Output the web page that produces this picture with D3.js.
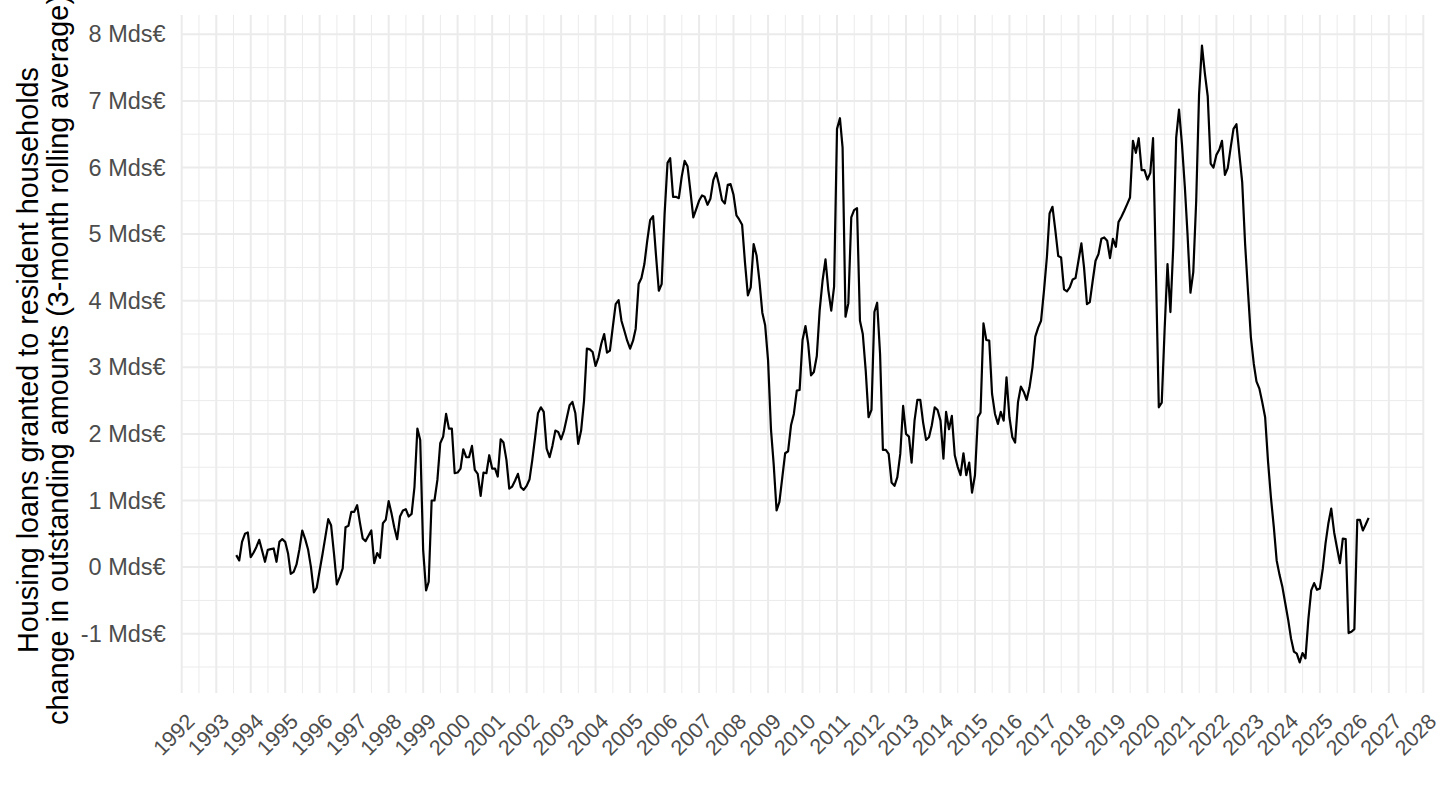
<!DOCTYPE html>
<html>
<head>
<meta charset="utf-8">
<script src="https://cdn.jsdelivr.net/npm/d3@7"></script>
<style>
	body { margin: 0; background: #fff; }
	svg { display: block; font-family: 'Liberation Sans', Arial, sans-serif; }
</style>
</head>
<body>
<svg></svg>
<script>
const w = 1440;
const h = 810;

// monthly series, first month below
const firstMonth = '1993-08';
const loans = [
	0.18, 0.10, 0.38, 0.50, 0.52, 0.15, 0.22, 0.30, 0.41, 0.25, 0.08, 0.26, 0.27, 0.28, 0.08, 0.38,
	0.42, 0.38, 0.20, -0.10, -0.07, 0.04, 0.27, 0.55, 0.42, 0.26, 0.00, -0.38, -0.31, -0.05, 0.20, 0.45,
	0.72, 0.63, 0.20, -0.26, -0.15, -0.02, 0.60, 0.62, 0.83, 0.83, 0.93, 0.68, 0.43, 0.39, 0.47, 0.55,
	0.06, 0.21, 0.14, 0.66, 0.71, 0.99, 0.80, 0.60, 0.42, 0.76, 0.85, 0.87, 0.76, 0.80, 1.20, 2.08,
	1.91, 0.26, -0.35, -0.22, 1.00, 1.00, 1.31, 1.86, 1.96, 2.30, 2.08, 2.08, 1.41, 1.42, 1.48, 1.77,
	1.65, 1.65, 1.82, 1.46, 1.40, 1.07, 1.42, 1.41, 1.68, 1.48, 1.48, 1.36, 1.92, 1.87, 1.61, 1.18,
	1.21, 1.30, 1.40, 1.20, 1.16, 1.22, 1.32, 1.60, 1.95, 2.31, 2.40, 2.33, 1.78, 1.65, 1.82, 2.05,
	2.03, 1.92, 2.05, 2.23, 2.43, 2.48, 2.31, 1.85, 2.05, 2.50, 3.28, 3.27, 3.23, 3.02, 3.15, 3.35,
	3.50, 3.22, 3.25, 3.60, 3.95, 4.01, 3.70, 3.55, 3.40, 3.28, 3.40, 3.58, 4.25, 4.34, 4.55, 4.90,
	5.21, 5.27, 4.70, 4.15, 4.25, 5.30, 6.07, 6.14, 5.56, 5.56, 5.54, 5.86, 6.10, 6.02, 5.65, 5.25,
	5.37, 5.50, 5.58, 5.56, 5.44, 5.53, 5.81, 5.92, 5.74, 5.51, 5.46, 5.74, 5.75, 5.59, 5.28, 5.22,
	5.14, 4.58, 4.08, 4.20, 4.85, 4.68, 4.30, 3.82, 3.63, 3.10, 2.06, 1.55, 0.85, 0.98, 1.35, 1.71,
	1.74, 2.13, 2.30, 2.65, 2.66, 3.41, 3.62, 3.36, 2.88, 2.93, 3.17, 3.85, 4.30, 4.62, 4.16, 3.85,
	4.21, 6.58, 6.74, 6.30, 3.76, 3.96, 5.25, 5.36, 5.39, 3.70, 3.50, 2.95, 2.25, 2.36, 3.83, 3.97,
	3.20, 1.76, 1.76, 1.70, 1.27, 1.22, 1.35, 1.70, 2.42, 2.00, 1.96, 1.57, 2.20, 2.51, 2.51, 2.17,
	1.91, 1.95, 2.13, 2.40, 2.36, 2.20, 1.63, 2.33, 2.07, 2.27, 1.68, 1.51, 1.38, 1.71, 1.38, 1.57,
	1.12, 1.38, 2.25, 2.32, 3.66, 3.41, 3.40, 2.60, 2.30, 2.15, 2.33, 2.20, 2.85, 2.25, 1.95, 1.87,
	2.48, 2.71, 2.63, 2.51, 2.70, 3.00, 3.46, 3.60, 3.70, 4.15, 4.66, 5.31, 5.41, 5.06, 4.67, 4.65,
	4.17, 4.14, 4.20, 4.32, 4.34, 4.60, 4.86, 4.50, 3.95, 3.98, 4.30, 4.60, 4.70, 4.93, 4.95, 4.90,
	4.64, 4.93, 4.81, 5.18, 5.26, 5.35, 5.45, 5.55, 6.40, 6.22, 6.44, 5.96, 5.96, 5.82, 5.92, 6.44,
	4.40, 2.40, 2.47, 3.55, 4.55, 3.83, 4.81, 6.45, 6.87, 6.35, 5.70, 5.00, 4.12, 4.43, 5.50, 7.09,
	7.83, 7.41, 7.07, 6.06, 6.00, 6.19, 6.27, 6.40, 5.89, 5.99, 6.30, 6.58, 6.65, 6.20, 5.78, 4.85,
	4.15, 3.45, 3.05, 2.79, 2.68, 2.48, 2.25, 1.60, 1.05, 0.60, 0.10, -0.12, -0.30, -0.55, -0.80, -1.07,
	-1.27, -1.30, -1.43, -1.29, -1.37, -0.78, -0.35, -0.24, -0.34, -0.32, -0.02, 0.35, 0.66, 0.88, 0.52, 0.29,
	0.06, 0.43, 0.42, -0.99, -0.97, -0.93, 0.71, 0.71, 0.55, 0.64, 0.74
];

const yearTicks = d3.range(1992, 2029);
const valueTicks = [-1, 0, 1, 2, 3, 4, 5, 6, 7, 8];
const yTitle = [
	'Housing loans granted to resident households',
	'change in outstanding amounts (3-month rolling average)'
];

const panel = { left: 181.7, right: 1423.3, top: 15, bottom: 693 };

let canvas = d3.select('svg').attr('width', w).attr('height', h);

const start = d3.timeParse('%Y-%m')(firstMonth);
const data = loans.map((v, i) => ({ date: d3.timeMonth.offset(start, i), value: v }));

const xScale = d3
	.scaleTime()
	.domain([new Date(1992, 0, 1), new Date(2028, 0, 1)])
	.range([panel.left, panel.right]);
const yScale = d3.scaleLinear().domain([-1.89, 8.29]).range([panel.bottom, panel.top]);

// grid: minor first, then major
const years = yearTicks.map((y) => new Date(y, 0, 1));
const halfYears = years.slice(0, -1).map((d, i) => new Date((+d + +years[i + 1]) / 2));
const halfValues = d3.range(-1.5, 8.3, 1);

const grid = canvas.append('g').attr('stroke', '#ebebeb').attr('fill', 'none');
grid
	.selectAll('.vminor')
	.data(halfYears)
	.enter()
	.append('line')
	.attr('x1', (d) => xScale(d))
	.attr('x2', (d) => xScale(d))
	.attr('y1', panel.top)
	.attr('y2', panel.bottom)
	.attr('stroke-width', 1);
grid
	.selectAll('.hminor')
	.data(halfValues)
	.enter()
	.append('line')
	.attr('x1', panel.left)
	.attr('x2', panel.right)
	.attr('y1', (d) => yScale(d))
	.attr('y2', (d) => yScale(d))
	.attr('stroke-width', 1);
grid
	.selectAll('.vmajor')
	.data(years)
	.enter()
	.append('line')
	.attr('x1', (d) => xScale(d))
	.attr('x2', (d) => xScale(d))
	.attr('y1', panel.top)
	.attr('y2', panel.bottom)
	.attr('stroke-width', 2);
grid
	.selectAll('.hmajor')
	.data(valueTicks)
	.enter()
	.append('line')
	.attr('x1', panel.left)
	.attr('x2', panel.right)
	.attr('y1', (d) => yScale(d))
	.attr('y2', (d) => yScale(d))
	.attr('stroke-width', 2);

// axes
let yAxis = d3
	.axisLeft(yScale)
	.tickValues(valueTicks)
	.tickSize(0)
	.tickPadding(16)
	.tickFormat((d) => d + ' Mds€');
canvas
	.append('g')
	.attr('id', 'y-axis')
	.attr('transform', `translate(${panel.left},0)`)
	.call(yAxis)
	.call((g) => g.select('.domain').remove())
	.selectAll('text')
	.attr('fill', '#4d4d4d')
	.attr('font-size', '23.5px')
	.attr('font-family', "'Liberation Sans', Arial, sans-serif");

let xAxis = d3.axisBottom(xScale).tickValues(years).tickSize(0).tickFormat(d3.timeFormat('%Y'));
canvas
	.append('g')
	.attr('id', 'x-axis')
	.attr('transform', `translate(0,${panel.bottom})`)
	.call(xAxis)
	.call((g) => g.select('.domain').remove())
	.selectAll('text')
	.attr('fill', '#4d4d4d')
	.attr('font-size', '21.5px')
	.attr('font-family', "'Liberation Sans', Arial, sans-serif")
	.attr('text-anchor', 'end')
	.attr('y', 0)
	.attr('dy', '0.71em')
	.attr('transform', 'translate(3,19) rotate(-45)');

// the series
const line = d3
	.line()
	.x((d) => xScale(d.date))
	.y((d) => yScale(d.value));

canvas
	.append('path')
	.datum(data)
	.attr('fill', 'none')
	.attr('stroke', '#000')
	.attr('stroke-width', 2.2)
	.attr('stroke-linejoin', 'round')
	.attr('d', line);

// y title, two lines
const midY = 360;
canvas
	.append('g')
	.selectAll('text')
	.data(yTitle)
	.enter()
	.append('text')
	.attr('transform', (d, i) => `translate(${38 + i * 30},${midY}) rotate(-90)`)
	.attr('text-anchor', 'middle')
	.attr('font-size', '28.8px')
	.attr('fill', '#000')
	.text((d) => d);
</script>
</body>
</html>
